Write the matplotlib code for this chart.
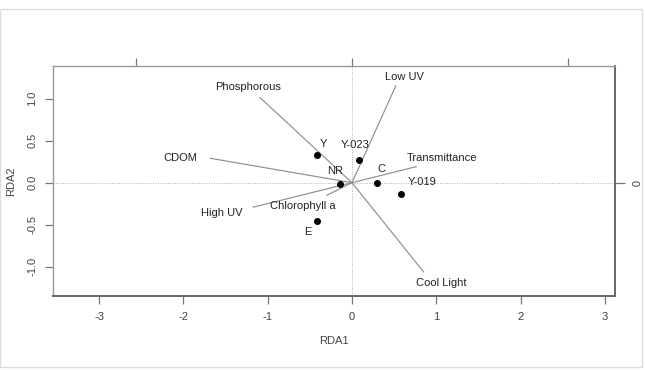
import matplotlib
matplotlib.use("Agg")
import matplotlib.pyplot as plt
from matplotlib.patches import Rectangle

plt.rcParams['font.family'] = ['Liberation Sans', 'DejaVu Sans']

# Site scores
sites = ["Y", "Y-023", "NR", "C", "Y-019", "E"]
site_x = [-0.42, 0.087, -0.14, 0.30, 0.585, -0.41]
site_y = [0.33, 0.27, -0.02, 0.00, -0.13, -0.46]
site_lab_x = [-0.34, 0.04, -0.20, 0.35, 0.83, -0.52]
site_lab_y = [0.46, 0.45, 0.14, 0.16, 0.01, -0.59]

# Environmental biplot arrows
env = ["Phosphorous", "CDOM", "High UV", "Chlorophyll a", "Low UV", "Transmittance", "Cool Light"]
env_x = [-1.09, -1.68, -1.17, -0.30, 0.52, 0.76, 0.85]
env_y = [1.01, 0.29, -0.29, -0.15, 1.15, 0.19, -1.06]
env_lab_x = [-1.23, -2.04, -1.54, -0.58, 0.62, 1.07, 1.06]
env_lab_y = [1.14, 0.29, -0.36, -0.28, 1.26, 0.29, -1.19]

x_ticks = [-3, -2, -1, 0, 1, 2, 3]
y_ticks = [-1.0, -0.5, 0.0, 0.5, 1.0]
y_ticklabels = ["-1.0", "-0.5", "0.0", "0.5", "1.0"]
mul = 2.565
top_ticks = [-1, 0, 1]
right_ticks = [0]

FS = 8

fig = plt.figure(figsize=(6.45, 3.7), dpi=100)
fig.patches.append(Rectangle((0.0, 3/370), 642/645, 358/370, transform=fig.transFigure,
                             fill=False, edgecolor='#dddddd', lw=1.0))
ax = fig.add_axes([52.7/645, 1 - 295.7/370, (615 - 52.7)/645, (295.7 - 66)/370])
ax.set_xlim(-3.55, 3.12)
ax.set_ylim(-1.342, 1.386)

ax.axhline(0, color='#b0b0b0', lw=0.7, ls=(0, (1, 1.5)), zorder=1)
ax.axvline(0, color='#b0b0b0', lw=0.7, ls=(0, (1, 1.5)), zorder=1)

for x, y in zip(env_x, env_y):
    ax.plot([0, x], [0, y], color='#8f8f8f', lw=0.85, zorder=2)
for name, x, y in zip(env, env_lab_x, env_lab_y):
    ax.text(x, y, name, ha='center', va='center', fontsize=FS, color='#222222', zorder=4)

ax.scatter(site_x, site_y, s=16, color='black', zorder=3)
for name, x, y in zip(sites, site_lab_x, site_lab_y):
    ax.text(x, y, name, ha='center', va='center', fontsize=FS, color='#222222', zorder=4)

ax.set_xticks(x_ticks)
ax.set_xticklabels([str(t) for t in x_ticks])
ax.set_yticks(y_ticks)
ax.set_yticklabels(y_ticklabels, rotation=90, va='center')
ax.tick_params(axis='both', colors='#777777', labelcolor='#444444', labelsize=FS,
               length=6, width=0.9, direction='out')
ax.tick_params(axis='x', pad=6)
ax.tick_params(axis='y', pad=5)

for s in ['left', 'top']:
    ax.spines[s].set_color('#999999')
    ax.spines[s].set_linewidth(1.0)
for s in ['right', 'bottom']:
    ax.spines[s].set_color('#666666')
    ax.spines[s].set_linewidth(1.4)

ax.set_xlabel("RDA1", fontsize=FS, color='#444444', labelpad=10)
ax.set_ylabel("RDA2", fontsize=FS, color='#444444', labelpad=8)

sec_x = ax.secondary_xaxis('top', functions=(lambda v: v / mul, lambda v: v * mul))
sec_x.set_xticks(top_ticks)
sec_x.set_xticklabels([])
sec_x.tick_params(colors='#777777', length=6, width=0.9)
sec_x.spines['top'].set_visible(False)

sec_y = ax.secondary_yaxis('right', functions=(lambda v: v / mul, lambda v: v * mul))
sec_y.set_yticks(right_ticks)
sec_y.set_yticklabels([str(t) for t in right_ticks], rotation=-90, va='center')
sec_y.tick_params(colors='#777777', labelcolor='#444444', labelsize=FS, length=7, width=0.9, pad=3)
sec_y.spines['right'].set_visible(False)

fig.savefig("out.png", dpi=100)
